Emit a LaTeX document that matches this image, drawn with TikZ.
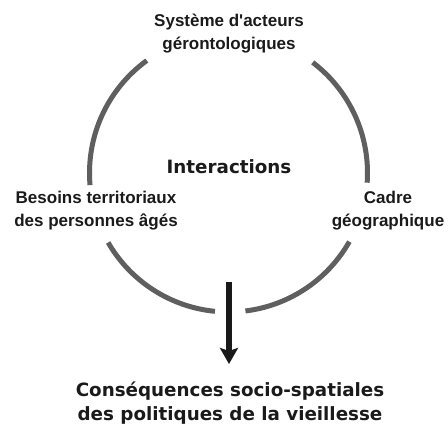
\documentclass[tikz,border=0pt]{standalone}
\usepackage{fontspec}
\setmainfont{Liberation Sans}
\newfontfamily\heavy{DejaVu Sans}
\usetikzlibrary{arrows.meta}
\definecolor{arcgray}{HTML}{5F5F5F}
\definecolor{txt}{HTML}{1A1A1A}
\begin{document}
\begin{tikzpicture}[x=1pt,y=1pt,
  lab/.style={font=\fontsize{17}{23}\selectfont\bfseries, text=txt, align=center, inner sep=0pt},
  biglab/.style={font=\heavy\fontsize{18.3}{24}\selectfont\bfseries, text=txt, align=center, inner sep=0pt},
  arcline/.style={draw=arcgray, line width=5pt}]
\useasboundingbox (0,0) rectangle (448,-430);
\coordinate (c) at (228.5,-173);
\node[lab] (top) at (229,-34) {Système d\textquotesingle acteurs\\gérontologiques};
\node[biglab] (inter) at (229,-167) {Interactions};
\node[lab] (left) at (96,-211) {Besoins territoriaux\\des personnes âgés};
\node[lab] (right) at (388,-211) {Cadre\\géographique};
\node[biglab] (cons) at (230,-403) {Conséquences socio-spatiales\\des politiques de la vieillesse};
\draw[arcline] ([shift={(126:139)}]c) arc[start angle=126, end angle=185, radius=139];
\draw[arcline] ([shift={(52.7:139)}]c) arc[start angle=52.7, end angle=-4, radius=139];
\draw[arcline] ([shift={(210:139)}]c) arc[start angle=210, end angle=264.4, radius=139];
\draw[arcline] ([shift={(277:139)}]c) arc[start angle=277, end angle=330.4, radius=139];
\coordinate (astart) at (229,-282);
\coordinate (aend) at (229,-364);
\draw[line width=5.5pt, black!90, -{Stealth[length=16pt, width=18pt, inset=3pt]}] (astart) -- (aend);
\end{tikzpicture}
\end{document}
